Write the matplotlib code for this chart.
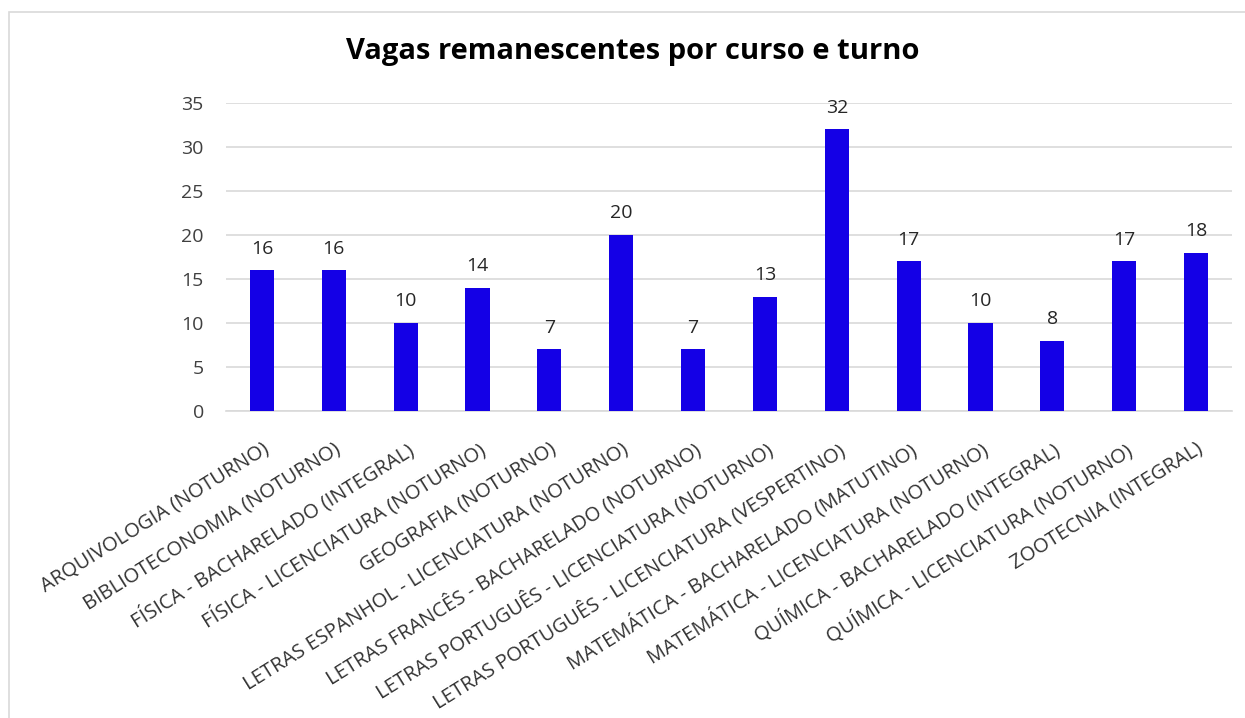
import matplotlib.pyplot as plt
from matplotlib.patches import Rectangle

cursos = [
    "ARQUIVOLOGIA (NOTURNO)",
    "BIBLIOTECONOMIA (NOTURNO)",
    "FÍSICA - BACHARELADO (INTEGRAL)",
    "FÍSICA - LICENCIATURA (NOTURNO)",
    "GEOGRAFIA (NOTURNO)",
    "LETRAS ESPANHOL - LICENCIATURA (NOTURNO)",
    "LETRAS FRANCÊS - BACHARELADO (NOTURNO)",
    "LETRAS PORTUGUÊS - LICENCIATURA (NOTURNO)",
    "LETRAS PORTUGUÊS - LICENCIATURA (VESPERTINO)",
    "MATEMÁTICA - BACHARELADO (MATUTINO)",
    "MATEMÁTICA - LICENCIATURA (NOTURNO)",
    "QUÍMICA - BACHARELADO (INTEGRAL)",
    "QUÍMICA - LICENCIATURA (NOTURNO)",
    "ZOOTECNIA (INTEGRAL)",
]
vagas = [16, 16, 10, 14, 7, 20, 7, 13, 32, 17, 10, 8, 17, 18]
y_ticks = [0, 5, 10, 15, 20, 25, 30, 35]

plt.rcParams['font.family'] = ['Open Sans', 'DejaVu Sans']

W, H = 1245, 718
fig = plt.figure(figsize=(W / 100, H / 100), dpi=100)

# chart frame
fig.patches.append(Rectangle((9 / W, -0.1), 1.2, 1 - 12 / H + 0.1,
                             transform=fig.transFigure, fill=False,
                             edgecolor='#d9d9d9', linewidth=1.2))

left, right = 226 / W, 1232 / W
bottom, top = 1 - 411 / H, 1 - 103 / H
ax = fig.add_axes([left, bottom, right - left, top - bottom])

x = list(range(len(cursos)))
ax.bar(x, vagas, width=0.335, color='#1400E6', zorder=3)
for xi, v in zip(x, vagas):
    ax.annotate(str(v), (xi, v), xytext=(0, 9), textcoords='offset points',
                ha='center', va='bottom', fontsize=14, color='#262626')

ax.set_xlim(-0.5, len(cursos) - 0.5)
ax.set_ylim(0, 35)
ax.set_yticks(y_ticks)
ax.set_yticklabels([str(t) for t in y_ticks], fontsize=14, color='#404040')
ax.yaxis.grid(True, color='#d9d9d9', linewidth=1.2, zorder=0)
ax.tick_params(axis='y', length=0, pad=16)
ax.tick_params(axis='x', length=0, pad=20)
ax.set_xticks(x)
ax.set_xticklabels(cursos, rotation=32, ha='right', rotation_mode='anchor',
                   fontsize=14.5, color='#333333')
for s in ['top', 'right', 'left']:
    ax.spines[s].set_visible(False)
ax.spines['bottom'].set_color('#d9d9d9')
ax.spines['bottom'].set_linewidth(1.2)

fig.text(633 / W, 1 - 52 / H, 'Vagas remanescentes por curso e turno',
         ha='center', va='center', fontsize=21, fontweight='bold',
         color='#000000')

fig.savefig('out.png', dpi=100, facecolor='white')
